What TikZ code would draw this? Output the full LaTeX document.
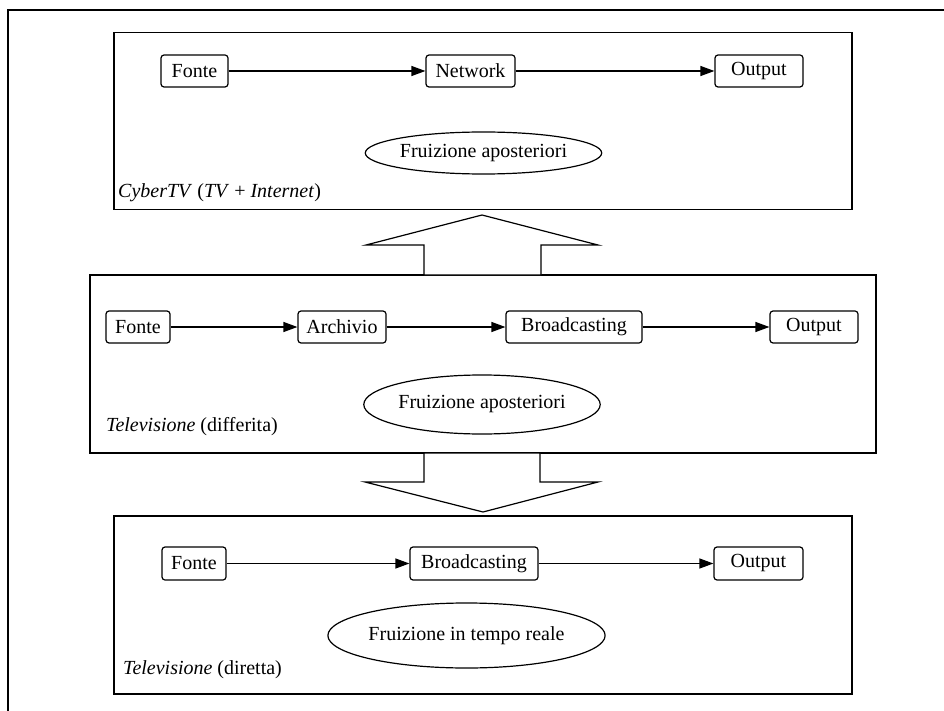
\documentclass[tikz,border=0pt]{standalone}
\usepackage{fontspec}
\setmainfont{Liberation Serif}
\usetikzlibrary{shapes.geometric,arrows.meta}
\begin{document}
\begin{tikzpicture}[x=1pt,y=-1pt,
  every node/.style={font=\fontsize{20}{23}\selectfont},
  box/.style={draw, rounded corners=3pt, line width=1.2pt, minimum height=32pt, inner sep=0pt},
  panel/.style={draw, line width=1.2pt, inner sep=0pt},
  fru/.style={draw, ellipse, line width=1.2pt, inner sep=0pt},
  flow/.style={line width=1.2pt, -{Triangle[length=14pt,width=10pt]}},
  blockarrow/.style={draw, line width=1.2pt, fill=white, line join=miter},
  lbl/.style={anchor=west, inner sep=0pt}]
\useasboundingbox (0,0) rectangle (944,711);
\fill[white] (0,0) rectangle (944,711);
% outer frame
\draw[line width=1.2pt] (8,725) -- (8,10) -- (960,10);
% panels
\node[panel, minimum width=738pt, minimum height=177pt] (p1) at (483,121) {};
\node[panel, minimum width=786pt, minimum height=178pt] (p2) at (483,364) {};
\node[panel, minimum width=738pt, minimum height=178pt] (p3) at (483,605) {};
% block arrows
\coordinate (ua) at (482,215);
\coordinate (da) at (483,512);
\draw[blockarrow] (424,275) -- (424,245) -- (366,245) -- (ua) -- (598,245) -- (541,245) -- (541,275) -- cycle;
\draw[blockarrow] (424,453) -- (424,482) -- (365,482) -- (da) -- (598,482) -- (540,482) -- (540,453) -- cycle;
% top panel
\node[box, minimum width=67pt] (f1) at (194.5,71) {Fonte};
\node[box, minimum width=89pt] (n1) at (470.5,71) {Network};
\node[box, minimum width=88pt] (o1) at (759,71) {Output};
\draw[flow] (f1) -- (n1);
\draw[flow] (n1) -- (o1);
\node[fru, minimum width=219pt, minimum height=42pt] (e1) at (483.5,153) {Fruizione aposteriori};
\node[lbl] (l1) at (118,193) {\textit{CyberTV} (\textit{TV} + \textit{Internet})};
% middle panel
\node[box, minimum width=64pt] (f2) at (138,327) {Fonte};
\node[box, minimum width=88pt] (a2) at (342,327) {Archivio};
\node[box, minimum width=136pt] (b2) at (574,327) {Broadcasting};
\node[box, minimum width=88pt] (o2) at (814,327) {Output};
\draw[flow] (f2) -- (a2);
\draw[flow] (a2) -- (b2);
\draw[flow] (b2) -- (o2);
\node[fru, minimum width=226pt, minimum height=59pt] (e2) at (482,404.5) {Fruizione aposteriori};
\node[lbl] (l2) at (106,427) {\textit{Televisione} (differita)};
% bottom panel
\node[box, minimum width=64pt, minimum height=33pt] (f3) at (194,563.5) {Fonte};
\node[box, minimum width=128pt, minimum height=33pt] (b3) at (474,563.5) {Broadcasting};
\node[box, minimum width=89pt, minimum height=33pt] (o3) at (758.5,563.5) {Output};
\draw[flow] (f3) -- (b3);
\draw[flow] (b3) -- (o3);
\node[fru, minimum width=241pt, minimum height=65pt] (e3) at (466.5,635.5) {Fruizione in tempo reale};
\node[lbl] (l3) at (123,670) {\textit{Televisione} (diretta)};
\end{tikzpicture}
\end{document}
